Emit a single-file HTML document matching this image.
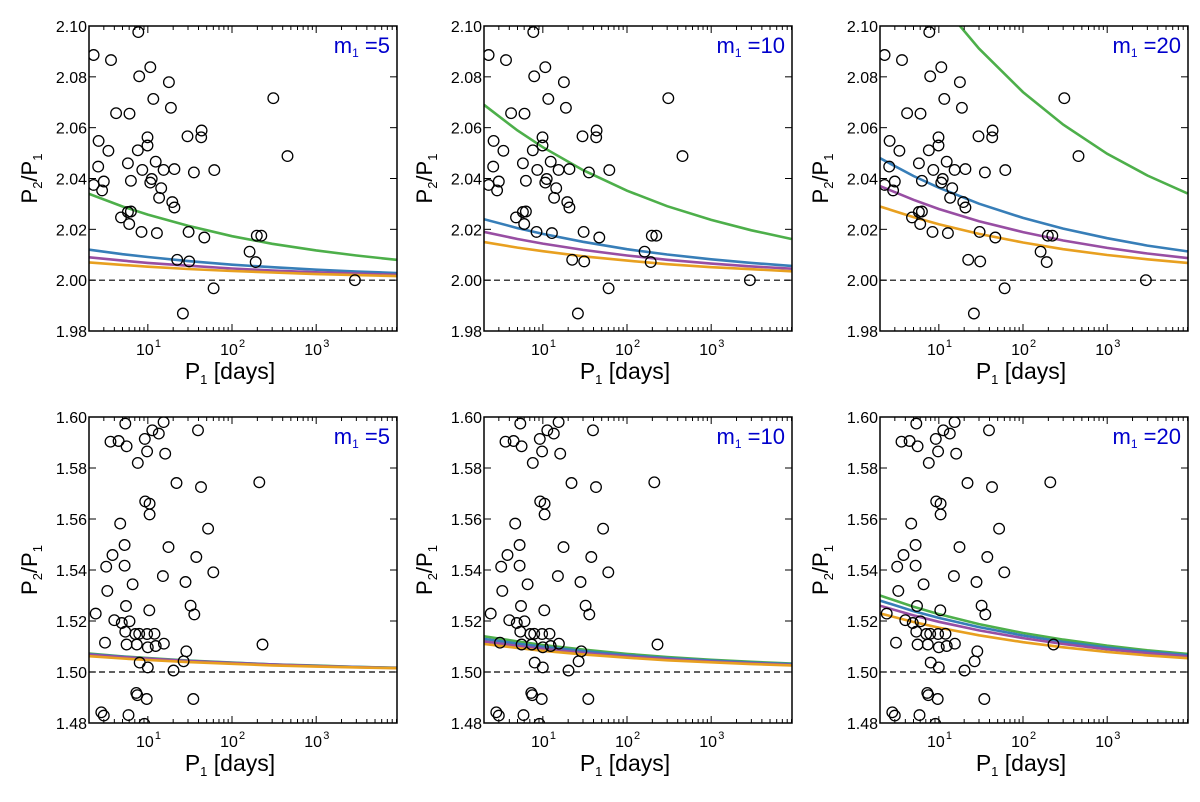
<!DOCTYPE html>
<html><head><meta charset="utf-8">
<style>
html,body{margin:0;padding:0;background:#fff;}
svg{display:block;font-family:"Liberation Sans","DejaVu Sans",sans-serif;}
</style></head>
<body>
<svg id="fig" width="1200" height="802" viewBox="0 0 1200 802" xmlns="http://www.w3.org/2000/svg"></svg>
<script>
// ---- data ----
const topP = [2.27,3.65,7.7,7.9,10.7,17.8,11.6,18.8,309,4.2,6.05,2.6,3.4,9.9,9.9,7.6,43.5,43,29.6,456,2.57,5.8,12.4,8.6,15.4,20.7,61.6,35.3,2.27,3.0,6.3,11.1,10.7,2.86,14.4,13.6,19.5,20.7,4.8,5.8,6.3,6.0,8.4,12.8,30.5,46.9,197,223,162,191,22.3,31,60.5,26.1,2880];
const topR = [2.0886,2.0866,2.0976,2.0802,2.0838,2.0779,2.0713,2.0678,2.0716,2.0657,2.0655,2.0548,2.0509,2.0562,2.053,2.0511,2.0589,2.0562,2.0566,2.0488,2.0447,2.046,2.0466,2.0434,2.0434,2.0437,2.0433,2.0424,2.0375,2.0388,2.0391,2.0398,2.0384,2.0353,2.0362,2.0324,2.0307,2.0286,2.0247,2.0268,2.027,2.0221,2.019,2.0185,2.019,2.0168,2.0175,2.0175,2.0112,2.0071,2.008,2.0074,1.9968,1.9869,2.0];
const botP = [5.4,15.4,11.3,39.4,13.5,3.6,4.5,5.6,9.2,9.8,16.1,7.6,21.9,42.8,211,9.3,10.5,10.5,4.7,52,5.3,17.6,3.8,37.6,3.2,5.3,60,15.1,28,6.6,3.3,5.5,32.2,35.6,2.4,10.4,4.0,4.9,6.05,5.4,7.9,7.1,9.8,12,3.1,5.6,7.4,15.5,12.4,10,230,28.6,26.6,8.0,10,20.2,7.3,7.5,9.7,34.7,2.8,3.0,5.9,9.1];
const botR = [1.5974,1.598,1.5948,1.5948,1.5935,1.5903,1.5906,1.5885,1.5914,1.5865,1.5856,1.582,1.5741,1.5725,1.5744,1.5669,1.566,1.5618,1.5582,1.5562,1.5498,1.549,1.5459,1.5451,1.5413,1.5417,1.5391,1.5376,1.5353,1.5344,1.5318,1.5259,1.526,1.5226,1.5229,1.5242,1.5203,1.5192,1.5199,1.5158,1.515,1.5149,1.5149,1.515,1.5115,1.5108,1.5108,1.5111,1.5102,1.5097,1.5108,1.5081,1.5042,1.5037,1.5018,1.5006,1.4918,1.4909,1.4894,1.4894,1.4842,1.4829,1.4831,1.4797];
const curveP = [2,5,10,30,100,300,1000,3000,9000];
const tl_green=[2.034,2.029,2.0258,2.0214,2.0173,2.0143,2.0117,2.0097,2.0080];
const tl_blue=[2.012,2.0102,2.0091,2.0075,2.0061,2.0051,2.0041,2.0034,2.0028];
const tl_purple=[2.009,2.0077,2.0068,2.0057,2.0046,2.0038,2.0031,2.0026,2.0021];
const tl_orange=[2.007,2.006,2.0053,2.0044,2.0036,2.003,2.0024,2.002,2.0016];
const tm_green=[2.069,2.0589,2.0523,2.0433,2.0352,2.0291,2.0237,2.0196,2.0162];
const tm_blue=[2.024,2.0205,2.0182,2.0151,2.0122,2.0101,2.0082,2.0068,2.0056];
const tm_purple=[2.019,2.0162,2.0144,2.0119,2.0097,2.008,2.0065,2.0054,2.0045];
const tm_orange=[2.015,2.0128,2.0114,2.0094,2.0077,2.0063,2.0051,2.0043,2.0035];
const tr_green=[2.145,2.1238,2.1099,2.0911,2.074,2.0612,2.0497,2.0412,2.0341];
const tr_blue=[2.048,2.041,2.0364,2.0301,2.0245,2.0203,2.0165,2.0136,2.0113];
const tr_purple=[2.037,2.0316,2.028,2.0232,2.0189,2.0156,2.0127,2.0105,2.0087];
const tr_orange=[2.029,2.0248,2.022,2.0182,2.0148,2.0122,2.0099,2.0082,2.0068];
const bl_green=[1.5072,1.5061,1.5055,1.5045,1.5037,1.503,1.5025,1.502,1.5017];
const bl_blue=[1.507,1.506,1.5053,1.5044,1.5036,1.503,1.5024,1.502,1.5016];
const bl_purple=[1.5068,1.5058,1.5052,1.5043,1.5035,1.5029,1.5023,1.5019,1.5016];
const bl_orange=[1.5062,1.5053,1.5047,1.5039,1.5032,1.5026,1.5021,1.5018,1.5015];
const bm_green=[1.514,1.512,1.5106,1.5088,1.5071,1.5059,1.5048,1.504,1.5033];
const bm_blue=[1.513,1.5111,1.5099,1.5082,1.5066,1.5055,1.5045,1.5037,1.5031];
const bm_purple=[1.512,1.5102,1.5091,1.5075,1.5061,1.5051,1.5041,1.5034,1.5028];
const bm_orange=[1.511,1.5094,1.5083,1.5069,1.5056,1.5046,1.5038,1.5031,1.5026];
const br_green=[1.530,1.5256,1.5227,1.5188,1.5153,1.5127,1.5103,1.5085,1.5071];
const br_blue=[1.528,1.5239,1.5212,1.5176,1.5143,1.5118,1.5096,1.508,1.5066];
const br_purple=[1.526,1.5222,1.5197,1.5163,1.5133,1.511,1.5089,1.5074,1.5061];
const br_orange=[1.523,1.5196,1.5174,1.5144,1.5117,1.5097,1.5079,1.5065,1.5054];
const topTicks=["1.98","2.00","2.02","2.04","2.06","2.08","2.10"];
const botTicks=["1.48","1.50","1.52","1.54","1.56","1.58","1.60"];
const massLabels=["5","10","20"];

// ---- drawing ----
const NS="http://www.w3.org/2000/svg";
const svg=document.getElementById('fig');
function mk(tag,attrs,parent){const e=document.createElementNS(NS,tag);for(const k in attrs)e.setAttribute(k,attrs[k]);(parent||svg).appendChild(e);return e;}
const colX=[89,484,880], W=308;
const rows=[{y0:26,y1:331,ymin:1.98,ymax:2.10,ticks:topTicks,P:topP,R:topR,base:2.0,
  curves:[[tl_green,tl_blue,tl_purple,tl_orange],[tm_green,tm_blue,tm_purple,tm_orange],[tr_green,tr_blue,tr_purple,tr_orange]]},
 {y0:417,y1:723,ymin:1.48,ymax:1.60,ticks:botTicks,P:botP,R:botR,base:1.5,
  curves:[[bl_green,bl_blue,bl_purple,bl_orange],[bm_green,bm_blue,bm_purple,bm_orange],[br_green,br_blue,br_purple,br_orange]]}];
const colors=["#4daf4a","#377eb8","#984ea3","#e8a020"];
const cnames=["green","blue","purple","orange"];
const LX0=Math.log10(2), LX1=3.96;
rows.forEach((row,ri)=>{
 colX.forEach((x0,ci)=>{
  const g=mk('g',{});
  
  
  const sx=p=>x0+(Math.log10(p)-LX0)/(LX1-LX0)*W;
  const sy=v=>row.y1-(v-row.ymin)/(row.ymax-row.ymin)*(row.y1-row.y0);
  const clipId='c'+ri+ci;
  const cp=mk('clipPath',{id:clipId},g);mk('rect',{x:x0,y:row.y0,width:W,height:row.y1-row.y0},cp);
  const plot=mk('g',{'clip-path':'url(#'+clipId+')'},g);
  const dl=mk('line',{x1:x0,x2:x0+W,y1:sy(row.base),y2:sy(row.base),stroke:'#000','stroke-width':1.2,'stroke-dasharray':'6,4'},plot);
  
  
  row.curves[ci].forEach((vals,k)=>{
   const d=curveP.map((p,i)=>(i?'L':'M')+sx(p).toFixed(1)+','+sy(vals[i]).toFixed(1)).join('');
   const pe=mk('path',{d:d,fill:'none',stroke:colors[k],'stroke-width':2.6},plot);
   
   
  });
  row.P.forEach((p,i)=>{
   const c=mk('circle',{cx:sx(p).toFixed(1),cy:sy(row.R[i]).toFixed(1),r:5.3,fill:'none',stroke:'#000','stroke-width':1.3},plot);
   
   
  });
  const fr=mk('rect',{x:x0,y:row.y0,width:W,height:row.y1-row.y0,fill:'none',stroke:'#000','stroke-width':1.5},g);
  
  
  row.ticks.forEach((t,i)=>{
   const v=row.ymin+i*0.02, y=sy(v);
   mk('line',{x1:x0,x2:x0+7,y1:y,y2:y,stroke:'#000','stroke-width':1},g);
   mk('line',{x1:x0+W,x2:x0+W-7,y1:y,y2:y,stroke:'#000','stroke-width':1},g);
   const tx=mk('text',{x:x0-2,y:y+6,'text-anchor':'end','font-size':16},g);tx.textContent=t;
   
   
  });
  for(let dec=0;dec<=3;dec++){for(let m=1;m<10;m++){
   const p=m*Math.pow(10,dec); if(p<2||Math.log10(p)>LX1) continue;
   const x=sx(p), len=m===1?7:4;
   mk('line',{x1:x,x2:x,y1:row.y1,y2:row.y1-len,stroke:'#000','stroke-width':1},g);
   mk('line',{x1:x,x2:x,y1:row.y0,y2:row.y0+len,stroke:'#000','stroke-width':1},g);
   if(m===1&&dec>0){
    const tx=mk('text',{x:x-3,y:row.y1+24,'text-anchor':'middle','font-size':16},g);
    tx.textContent='10';
    
    
    const sp=mk('text',{x:x+7,y:row.y1+16,'font-size':11},g);sp.textContent=String(dec);
   }
  }}
  const xl=mk('text',{x:x0+W/2-13,y:row.y1+48,'text-anchor':'middle','font-size':23},g);
  xl.innerHTML='P<tspan font-size="13" dy="5">1</tspan><tspan dy="-5"> [days]</tspan>';
  
  
  const yc=(row.y0+row.y1)/2, yx=x0-52;
  const yl=mk('text',{x:yx,y:yc,'text-anchor':'middle','font-size':22,transform:'rotate(-90 '+yx+' '+yc+')'},g);
  yl.innerHTML='P<tspan font-size="13" dy="5">2</tspan><tspan dy="-5">/P</tspan><tspan font-size="13" dy="5">1</tspan>';
  
  
  const ml=mk('text',{x:x0+W-7,y:row.y0+27,'text-anchor':'end','font-size':22,fill:'#0000cc'},g);
  ml.innerHTML='m<tspan font-size="12" dy="4">1</tspan><tspan dy="-4"> =' + massLabels[ci] + '</tspan>';
  
  
 });
});
</script>
</body></html>
